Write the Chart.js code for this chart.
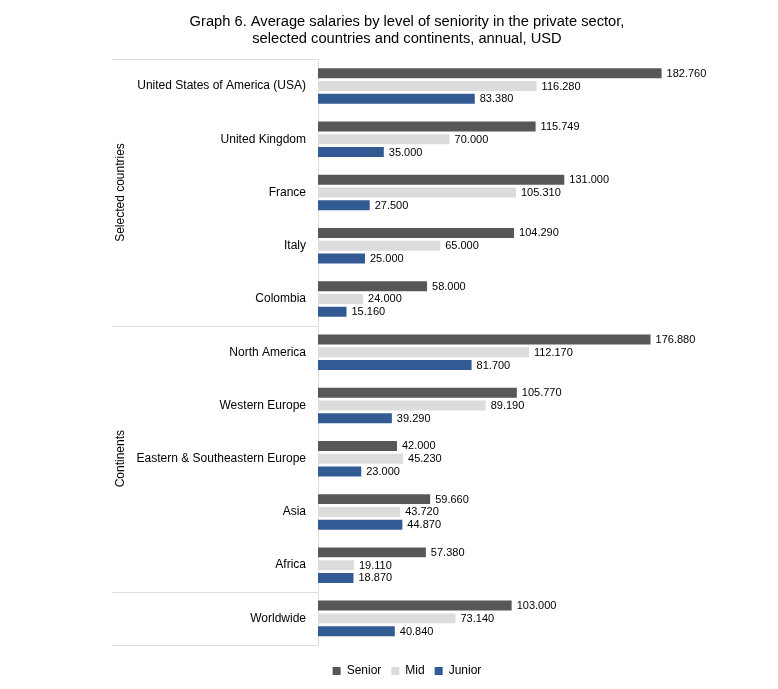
<!DOCTYPE html>
<html>
<head>
<meta charset="utf-8">
<script src="https://cdn.jsdelivr.net/npm/chart.js@4"></script>
<style>
html,body{margin:0;padding:0;background:#fff;}
#wrap{width:778px;height:689px;}
</style>
</head>
<body>
<div id="wrap"><canvas id="c" width="778" height="689"></canvas></div>
<script>
const categories = ["United States of America (USA)", "United Kingdom", "France", "Italy", "Colombia",
  "North America", "Western Europe", "Eastern & Southeastern Europe", "Asia", "Africa", "Worldwide"];
const senior = [182760, 115749, 131000, 104290, 58000, 176880, 105770, 42000, 59660, 57380, 103000];
const mid    = [116280, 70000, 105310, 65000, 24000, 112170, 89190, 45230, 43720, 19110, 73140];
const junior = [83380, 35000, 27500, 25000, 15160, 81700, 39290, 23000, 44870, 18870, 40840];
const seriesNames = ["Senior", "Mid", "Junior"];
const groups = [
  {label: "Selected countries", from: 0, to: 4},
  {label: "Continents", from: 5, to: 9},
  {label: "", from: 10, to: 10}
];
const titleLines = ["Graph 6. Average salaries by level of seniority in the private sector,",
  "selected countries and continents, annual, USD"];

const FONT = "'Liberation Sans', Arial, Helvetica, sans-serif";
const colors = ["#575757", "#dcdcdc", "#325a93"];

function fmt(v){
  return String(Math.round(v)).replace(/\B(?=(\d{3})+(?!\d))/g, ".");
}

const decorPlugin = {
  id: "decor",
  afterDatasetsDraw(chart){
    const ctx = chart.ctx;
    const y = chart.scales.y;
    const area = chart.chartArea;
    ctx.save();
    ctx.font = "11px " + FONT;
    ctx.fillStyle = "#000";
    ctx.textBaseline = "middle";
    ctx.textAlign = "left";
    chart.data.datasets.forEach((ds, di) => {
      const meta = chart.getDatasetMeta(di);
      meta.data.forEach((bar, i) => {
        ctx.fillText(fmt(ds.data[i]), bar.x + 5, bar.y + 0.5);
      });
    });
    ctx.restore();
    ctx.save();
    ctx.strokeStyle = "#dedede";
    ctx.lineWidth = 1;
    const left = area.left - 206;
    const bounds = [area.top];
    groups.forEach(g => {
      const b = g.to < categories.length - 1
        ? (y.getPixelForValue(g.to) + y.getPixelForValue(g.to + 1)) / 2
        : area.bottom;
      bounds.push(b);
    });
    bounds.forEach(b => {
      const yy = Math.round(b) + 0.5;
      ctx.beginPath();
      ctx.moveTo(left, yy);
      ctx.lineTo(area.left, yy);
      ctx.stroke();
    });
    ctx.restore();
    ctx.save();
    ctx.font = "12px " + FONT;
    ctx.fillStyle = "#000";
    ctx.textAlign = "center";
    ctx.textBaseline = "middle";
    groups.forEach((g, gi) => {
      if (!g.label) return;
      const cy = (bounds[gi] + bounds[gi + 1]) / 2;
      ctx.save();
      ctx.translate(left + 9, cy);
      ctx.rotate(-Math.PI / 2);
      ctx.fillText(g.label, 0, 0);
      ctx.restore();
    });
    ctx.restore();
  }
};

new Chart(document.getElementById("c"), {
  type: "bar",
  data: {
    labels: categories,
    datasets: [
      {label: seriesNames[0], data: senior, backgroundColor: colors[0]},
      {label: seriesNames[1], data: mid, backgroundColor: colors[1]},
      {label: seriesNames[2], data: junior, backgroundColor: colors[2]}
    ]
  },
  options: {
    indexAxis: "y",
    responsive: false,
    animation: false,
    devicePixelRatio: 1,
    categoryPercentage: 0.72,
    barPercentage: 0.78,
    layout: {padding: {left: 120, right: 84, top: 8, bottom: 2}},
    scales: {
      x: {
        min: 0, max: 200000,
        display: true,
        grid: {display: false},
        border: {display: false},
        ticks: {display: false},
        afterFit(s){ s.height = 10; }
      },
      y: {
        grid: {display: false, drawTicks: false},
        border: {display: true, color: "#dedede", width: 1},
        ticks: {color: "#000", font: {family: FONT, size: 12}, padding: 12},
        afterFit(s){ s.width = 198; }
      }
    },
    plugins: {
      title: {
        display: true,
        text: titleLines,
        color: "#000",
        font: {family: FONT, size: 14.7, weight: "normal", lineHeight: 1.17},
        padding: {top: 5, bottom: 12}
      },
      legend: {
        position: "bottom",
        labels: {
          color: "#000",
          font: {family: FONT, size: 12},
          boxWidth: 8, boxHeight: 8,
          padding: 10
        }
      },
      tooltip: {enabled: false}
    }
  },
  plugins: [decorPlugin]
});
</script>
</body>
</html>
